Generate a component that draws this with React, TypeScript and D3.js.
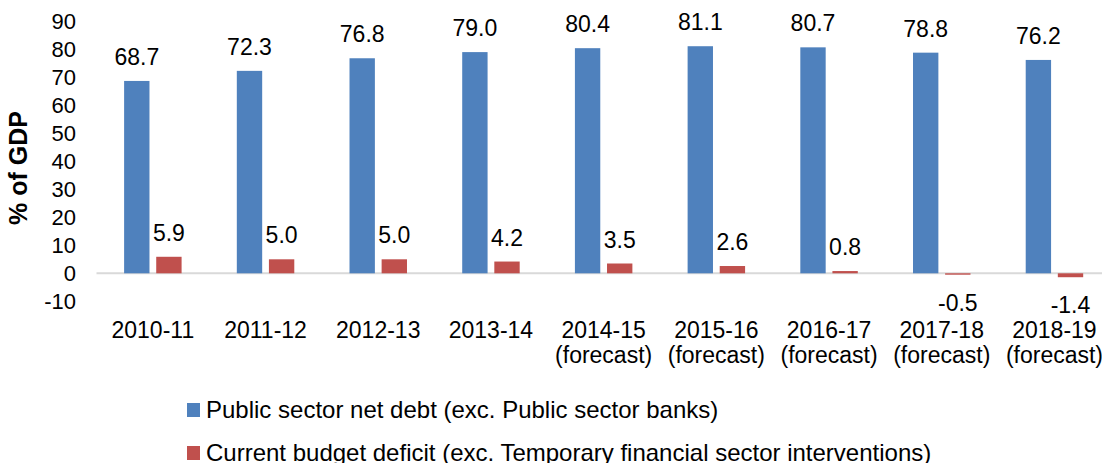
import React from "react";
import * as d3 from "d3";

const categories = [
  ["2010-11"],
  ["2011-12"],
  ["2012-13"],
  ["2013-14"],
  ["2014-15", "(forecast)"],
  ["2015-16", "(forecast)"],
  ["2016-17", "(forecast)"],
  ["2017-18", "(forecast)"],
  ["2018-19", "(forecast)"],
];
const netDebt = [68.7, 72.3, 76.8, 79.0, 80.4, 81.1, 80.7, 78.8, 76.2];
const budgetDeficit = [5.9, 5.0, 5.0, 4.2, 3.5, 2.6, 0.8, -0.5, -1.4];
const yTicks = [-10, 0, 10, 20, 30, 40, 50, 60, 70, 80, 90];
const seriesNames = [
  "Public sector net debt (exc. Public sector banks)",
  "Current budget deficit (exc. Temporary financial sector interventions)",
];
const seriesColors = ["#4F81BD", "#C0504D"];

const W = 1102;
const H = 463;
const FONT = "'Liberation Sans', Arial, sans-serif";

export default function App() {
  const keys = categories.map((c) => c.join(" "));
  const x0 = d3
    .scaleBand<string>()
    .domain(keys)
    .range([96.5, 96.5 + 9 * 112.7])
    .paddingInner(0.49)
    .paddingOuter(0.245);
  const x1 = d3
    .scaleBand<string>()
    .domain(["debt", "deficit"])
    .range([0, x0.bandwidth()])
    .paddingInner(0.21);
  const y = d3.scaleLinear().domain([-10, 90]).range([301.3, 21.3]);
  const series = [
    { key: "debt", values: netDebt, color: seriesColors[0] },
    { key: "deficit", values: budgetDeficit, color: seriesColors[1] },
  ];

  return (
    <svg
      width={W}
      height={H}
      style={{ position: "fixed", left: 0, top: 0, background: "#fff" }}
      fontFamily={FONT}
    >
      <rect x={0} y={0} width={W} height={H} fill="#fff" />
      {/* y tick labels */}
      {yTicks.map((t) => (
        <text
          key={t}
          x={76}
          y={y(t)}
          dy="0.35em"
          textAnchor="end"
          fontSize={22}
          fill="#000"
        >
          {t}
        </text>
      ))}
      {/* axis title */}
      <text
        transform={`translate(27,168) rotate(-90)`}
        textAnchor="middle"
        fontSize={25}
        fontWeight="bold"
        fill="#000"
      >
        % of GDP
      </text>
      {/* zero line */}
      <line
        x1={x0.range()[0]}
        x2={x0.range()[1]}
        y1={y(0)}
        y2={y(0)}
        stroke="#D9D9D9"
        strokeWidth={2}
      />
      {/* bars */}
      {series.map((s) =>
        s.values.map((v, i) => {
          const bx = (x0(keys[i]) ?? 0) + (x1(s.key) ?? 0);
          const top = y(Math.max(0, v));
          const bottom = y(Math.min(0, v));
          return (
            <rect
              key={s.key + i}
              x={bx}
              y={top}
              width={x1.bandwidth()}
              height={Math.max(0.8, bottom - top)}
              fill={s.color}
            />
          );
        })
      )}
      {/* value labels */}
      {series.map((s) =>
        s.values.map((v, i) => {
          const cx = (x0(keys[i]) ?? 0) + (x1(s.key) ?? 0) + x1.bandwidth() / 2;
          const ly = v >= 0 ? y(v) - 16 : y(v) + 36;
          return (
            <text
              key={"l" + s.key + i}
              x={cx}
              y={ly}
              textAnchor="middle"
              fontSize={23}
              fill="#000"
            >
              {v.toFixed(1)}
            </text>
          );
        })
      )}
      {/* category labels */}
      {categories.map((c, i) => (
        <text
          key={"c" + i}
          x={(x0(keys[i]) ?? 0) + x0.bandwidth() / 2}
          y={338}
          textAnchor="middle"
          fontSize={23}
          fill="#000"
        >
          {c.map((line, j) => (
            <tspan
              key={j}
              x={(x0(keys[i]) ?? 0) + x0.bandwidth() / 2}
              dy={j === 0 ? 0 : 25}
            >
              {line}
            </tspan>
          ))}
        </text>
      ))}
      {/* legend */}
      {seriesNames.map((name, i) => (
        <g key={"lg" + i} transform={`translate(187,${410 + i * 43})`}>
          <rect x={0} y={-7} width={13} height={14} fill={seriesColors[i]} />
          <text x={19} y={0} dy="0.35em" fontSize={24} fill="#000">
            {name}
          </text>
        </g>
      ))}
    </svg>
  );
}
